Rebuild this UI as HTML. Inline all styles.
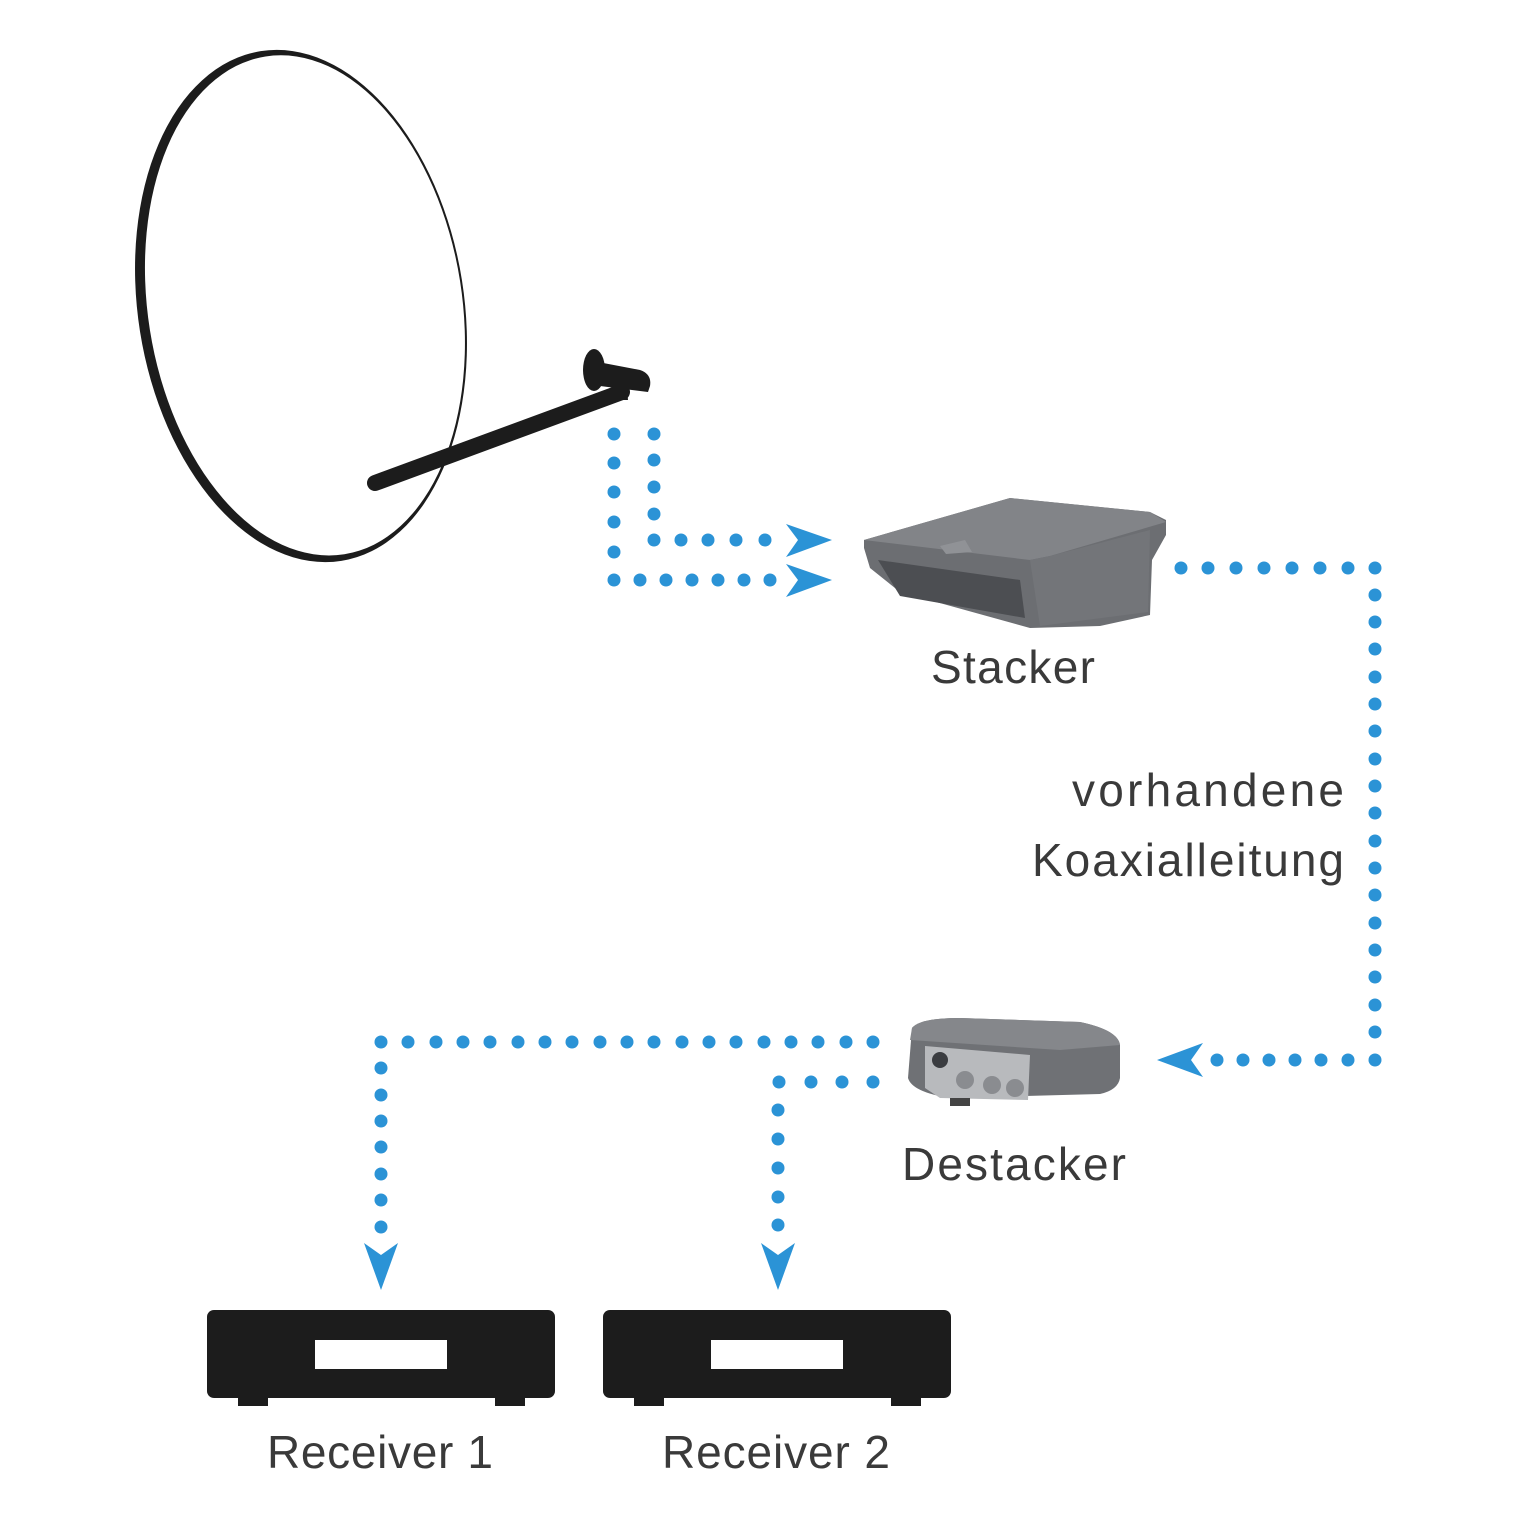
<!DOCTYPE html>
<html><head><meta charset="utf-8"><style>
html,body{margin:0;padding:0;background:#fff;}
svg{display:block;}
text{font-family:"Liberation Sans",sans-serif;fill:#3a3a3a;}
</style></head><body>
<svg width="1520" height="1520" viewBox="0 0 1520 1520" xmlns="http://www.w3.org/2000/svg">
<!-- dish -->
<g transform="rotate(-9 301 306)">
<ellipse cx="301" cy="306" rx="163" ry="258" fill="#1c1c1c"/>
<ellipse cx="305" cy="306" rx="157" ry="252" fill="#fff"/>
</g>
<line x1="375" y1="483" x2="622" y2="392" stroke="#1c1c1c" stroke-width="16" stroke-linecap="round"/>
<path d="M612 385 L626 378 L628 400 L614 400 Z" fill="#1c1c1c"/>
<ellipse cx="594" cy="370" rx="11" ry="21" fill="#1c1c1c"/>
<path d="M598 362 L640 370 Q652 374 650 386 L648 392 L600 386 Z" fill="#1c1c1c"/>

<g fill="#2b93d6">
<circle cx="614" cy="434" r="6.5"/><circle cx="614" cy="463" r="6.5"/><circle cx="614" cy="492" r="6.5"/><circle cx="614" cy="522" r="6.5"/><circle cx="614" cy="552" r="6.5"/>
<circle cx="614" cy="580" r="6.5"/><circle cx="640" cy="580" r="6.5"/><circle cx="666" cy="580" r="6.5"/><circle cx="692" cy="580" r="6.5"/><circle cx="718" cy="580" r="6.5"/><circle cx="744" cy="580" r="6.5"/><circle cx="770" cy="580" r="6.5"/>
<circle cx="654" cy="434" r="6.5"/><circle cx="654" cy="460" r="6.5"/><circle cx="654" cy="487" r="6.5"/><circle cx="654" cy="514" r="6.5"/>
<circle cx="654" cy="540" r="6.5"/><circle cx="681" cy="540" r="6.5"/><circle cx="708" cy="540" r="6.5"/><circle cx="736" cy="540" r="6.5"/><circle cx="765" cy="540" r="6.5"/>
<path d="M786 524 L832 540 L786 557 L798 540 Z"/>
<path d="M786 564 L832 580 L786 597 L798 580 Z"/>
<circle cx="1181" cy="568" r="6.5"/><circle cx="1208" cy="568" r="6.5"/><circle cx="1236" cy="568" r="6.5"/><circle cx="1264" cy="568" r="6.5"/><circle cx="1292" cy="568" r="6.5"/><circle cx="1320" cy="568" r="6.5"/><circle cx="1348" cy="568" r="6.5"/>
<circle cx="1375" cy="568" r="6.5"/><circle cx="1375" cy="595" r="6.5"/><circle cx="1375" cy="622" r="6.5"/><circle cx="1375" cy="649" r="6.5"/><circle cx="1375" cy="677" r="6.5"/><circle cx="1375" cy="704" r="6.5"/><circle cx="1375" cy="731" r="6.5"/><circle cx="1375" cy="759" r="6.5"/><circle cx="1375" cy="786" r="6.5"/><circle cx="1375" cy="813" r="6.5"/><circle cx="1375" cy="841" r="6.5"/><circle cx="1375" cy="868" r="6.5"/><circle cx="1375" cy="895" r="6.5"/><circle cx="1375" cy="923" r="6.5"/><circle cx="1375" cy="950" r="6.5"/><circle cx="1375" cy="977" r="6.5"/><circle cx="1375" cy="1005" r="6.5"/><circle cx="1375" cy="1032" r="6.5"/>
<circle cx="1375" cy="1060" r="6.5"/><circle cx="1348" cy="1060" r="6.5"/><circle cx="1321" cy="1060" r="6.5"/><circle cx="1295" cy="1060" r="6.5"/><circle cx="1269" cy="1060" r="6.5"/><circle cx="1243" cy="1060" r="6.5"/><circle cx="1217" cy="1060" r="6.5"/>
<path d="M1203 1043 L1157 1060 L1203 1077 L1191 1060 Z"/>
<circle cx="873" cy="1042" r="6.5"/><circle cx="846" cy="1042" r="6.5"/><circle cx="818" cy="1042" r="6.5"/><circle cx="791" cy="1042" r="6.5"/><circle cx="764" cy="1042" r="6.5"/><circle cx="736" cy="1042" r="6.5"/><circle cx="709" cy="1042" r="6.5"/><circle cx="682" cy="1042" r="6.5"/><circle cx="654" cy="1042" r="6.5"/><circle cx="627" cy="1042" r="6.5"/><circle cx="600" cy="1042" r="6.5"/><circle cx="572" cy="1042" r="6.5"/><circle cx="545" cy="1042" r="6.5"/><circle cx="518" cy="1042" r="6.5"/><circle cx="490" cy="1042" r="6.5"/><circle cx="463" cy="1042" r="6.5"/><circle cx="436" cy="1042" r="6.5"/><circle cx="408" cy="1042" r="6.5"/><circle cx="381" cy="1042" r="6.5"/>
<circle cx="381" cy="1068" r="6.5"/><circle cx="381" cy="1095" r="6.5"/><circle cx="381" cy="1121" r="6.5"/><circle cx="381" cy="1147" r="6.5"/><circle cx="381" cy="1174" r="6.5"/><circle cx="381" cy="1200" r="6.5"/><circle cx="381" cy="1227" r="6.5"/>
<path d="M364 1243 L381 1290 L398 1243 L381 1255 Z"/>
<circle cx="873" cy="1082" r="6.5"/><circle cx="842" cy="1082" r="6.5"/><circle cx="811" cy="1082" r="6.5"/><circle cx="779" cy="1082" r="6.5"/>
<circle cx="778" cy="1110" r="6.5"/><circle cx="778" cy="1139" r="6.5"/><circle cx="778" cy="1168" r="6.5"/><circle cx="778" cy="1197" r="6.5"/><circle cx="778" cy="1225" r="6.5"/>
<path d="M761 1243 L778 1290 L795 1243 L778 1255 Z"/>
</g>

<!-- stacker device -->
<path d="M864 540 L1010 498 L1150 512 L1166 520 L1166 535 L1152 560 L1150 615 L1100 626 L1030 628 L900 592 L870 568 L864 548 Z" fill="#6c6e72"/>
<path d="M864 540 L1010 498 L1150 512 L1166 522 L1050 556 L1030 560 Z" fill="#828488"/>
<path d="M878 560 L1020 580 L1025 618 L900 596 Z" fill="#4c4e52"/>
<path d="M1030 560 L1050 556 L1150 530 L1148 612 L1040 626 Z" fill="#737579"/>
<path d="M940 546 L965 540 L972 552 L946 554 Z" fill="#909296"/>

<!-- destacker device -->
<path d="M912 1028 Q920 1018 960 1018 L1080 1022 Q1118 1030 1120 1045 L1120 1078 Q1118 1090 1100 1094 L950 1098 Q912 1092 908 1078 Z" fill="#6f7175"/>
<path d="M912 1028 Q920 1018 960 1018 L1080 1022 Q1118 1030 1120 1045 L1060 1050 L910 1040 Z" fill="#85878b"/>
<path d="M925 1046 L1030 1055 L1028 1100 L940 1098 L925 1088 Z" fill="#b8babd"/>
<circle cx="940" cy="1060" r="8" fill="#3a3c40"/>
<circle cx="965" cy="1080" r="9" fill="#8a8c90"/>
<circle cx="992" cy="1085" r="9" fill="#8a8c90"/>
<circle cx="1015" cy="1088" r="9" fill="#8a8c90"/>
<rect x="950" y="1098" width="20" height="8" fill="#444"/>

<g fill="#1c1c1c">
<rect x="207" y="1310" width="348" height="88" rx="7"/>
<rect x="238" y="1395" width="30" height="11"/><rect x="495" y="1395" width="30" height="11"/>
<rect x="603" y="1310" width="348" height="88" rx="7"/>
<rect x="634" y="1395" width="30" height="11"/><rect x="891" y="1395" width="30" height="11"/>
</g>
<rect x="315" y="1340" width="132" height="29" fill="#fff"/>
<rect x="711" y="1340" width="132" height="29" fill="#fff"/>

<text x="1013" y="683" font-size="46" text-anchor="middle" textLength="164">Stacker</text>
<text x="1344" y="806" font-size="46" text-anchor="end" textLength="272">vorhandene</text>
<text x="1344" y="876" font-size="46" text-anchor="end" textLength="312">Koaxialleitung</text>
<text x="1014" y="1180" font-size="46" text-anchor="middle" textLength="224">Destacker</text>
<text x="380" y="1468" font-size="46" text-anchor="middle" textLength="226">Receiver 1</text>
<text x="776" y="1468" font-size="46" text-anchor="middle" textLength="228">Receiver 2</text>
</svg>
</body></html>
